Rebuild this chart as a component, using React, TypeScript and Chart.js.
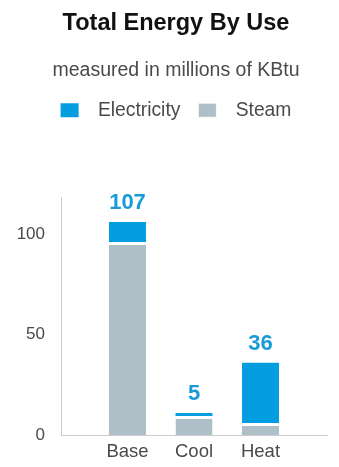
import React, { useEffect, useRef } from "react";
import { Chart, registerables } from "chart.js";

Chart.register(...registerables);

const categories = ["Base", "Cool", "Heat"];
const steamValues = [96, 9.5, 6];
const electricityValues = [10, 1.5, 30];
const totalLabels = ["107", "5", "36"];
const yTickValues = [0, 50, 100];
const yMax = 118;

const BLUE = "#039ee0";
const GRAY = "#aebfc7";
const TEXT = "#4a4a4a";
const AXIS = "#cccccc";
const FONT = "'Liberation Sans', Arial, Helvetica, sans-serif";

const totalsPlugin = {
  id: "totalsLabels",
  afterDatasetsDraw(chart: any) {
    const { ctx } = chart;
    const meta = chart.getDatasetMeta(chart.data.datasets.length - 1);
    ctx.save();
    ctx.font = `bold 22px ${FONT}`;
    ctx.fillStyle = "#1a9ad8";
    ctx.textAlign = "center";
    ctx.textBaseline = "alphabetic";
    categories.forEach((_, i) => {
      const el = meta.data[i + 1];
      if (!el) return;
      ctx.fillText(totalLabels[i], el.x, el.y - 13);
    });
    ctx.restore();
  },
};

export default function App() {
  const ref = useRef<HTMLCanvasElement | null>(null);

  useEffect(() => {
    if (!ref.current) return;
    Chart.defaults.font.family = FONT;
    const labels = ["", ...categories, ""];
    const pad = (arr: number[]) => [null, ...arr, null];
    const chart = new Chart(ref.current, {
      type: "bar",
      data: {
        labels,
        datasets: [
          {
            label: "\u2002Steam",
            data: pad(steamValues) as any,
            backgroundColor: GRAY,
            borderColor: "#ffffff",
            borderWidth: { top: 3, bottom: 0, left: 0, right: 0 },
            stack: "s",
          },
          {
            label: "\u2002Electricity",
            data: pad(electricityValues) as any,
            backgroundColor: BLUE,
            borderWidth: 0,
            stack: "s",
          },
        ],
      },
      options: {
        animation: false,
        responsive: true,
        maintainAspectRatio: false,
        datasets: { bar: { categoryPercentage: 1, barPercentage: 0.556 } } as any,
        layout: { padding: { left: 13, right: 0, top: 0, bottom: 4 } },
        plugins: {
          title: {
            display: true,
            text: "Total Energy By Use",
            color: "#111111",
            font: { size: 23.5, weight: "bold", family: FONT },
            padding: { top: 9, bottom: 22 },
          },
          subtitle: {
            display: true,
            text: "measured in millions of KBtu",
            color: TEXT,
            font: { size: 19.5, family: FONT },
            padding: { top: 0, bottom: 0 },
          },
          legend: {
            display: true,
            reverse: true,
            labels: {
              boxWidth: 18,
              boxHeight: 14,
              padding: 18,
              color: TEXT,
              font: { size: 19.3, family: FONT },
            },
          },
          tooltip: { enabled: false },
        },
        scales: {
          x: {
            stacked: true,
            offset: false,
            grid: { display: false, drawTicks: false },
            border: { display: true, color: AXIS, width: 1 },
            ticks: {
              color: TEXT,
              font: { size: 18.5, family: FONT },
              padding: 6,
              autoSkip: false,
              maxRotation: 0,
            },
            afterFit: (s: any) => {
              s.height = 28;
            },
          },
          x2: {
            type: "category",
            position: "top",
            display: true,
            grid: { display: false, drawTicks: false },
            border: { display: false },
            ticks: { display: false },
            afterFit: (s: any) => {
              s.height = 68;
            },
          },
          y: {
            stacked: true,
            min: 0,
            max: yMax,
            grid: { display: false, drawTicks: false },
            border: { display: true, color: AXIS, width: 1 },
            afterBuildTicks: (s: any) => {
              s.ticks = yTickValues.map((v) => ({ value: v }));
            },
            afterFit: (s: any) => {
              s.width = 48;
            },
            ticks: {
              color: TEXT,
              font: { size: 17, family: FONT },
              padding: 16,
            },
          },
          y2: {
            type: "linear",
            position: "right",
            display: true,
            grid: { display: false, drawTicks: false },
            border: { display: false },
            ticks: { display: false },
            afterFit: (s: any) => {
              s.width = 12;
            },
          },
        },
      } as any,
      plugins: [totalsPlugin],
    });
    return () => chart.destroy();
  }, []);

  return (
    <div style={{ position: "fixed", left: 0, top: 0, width: 339, height: 467, background: "#fff" }}>
      <canvas ref={ref} />
    </div>
  );
}
